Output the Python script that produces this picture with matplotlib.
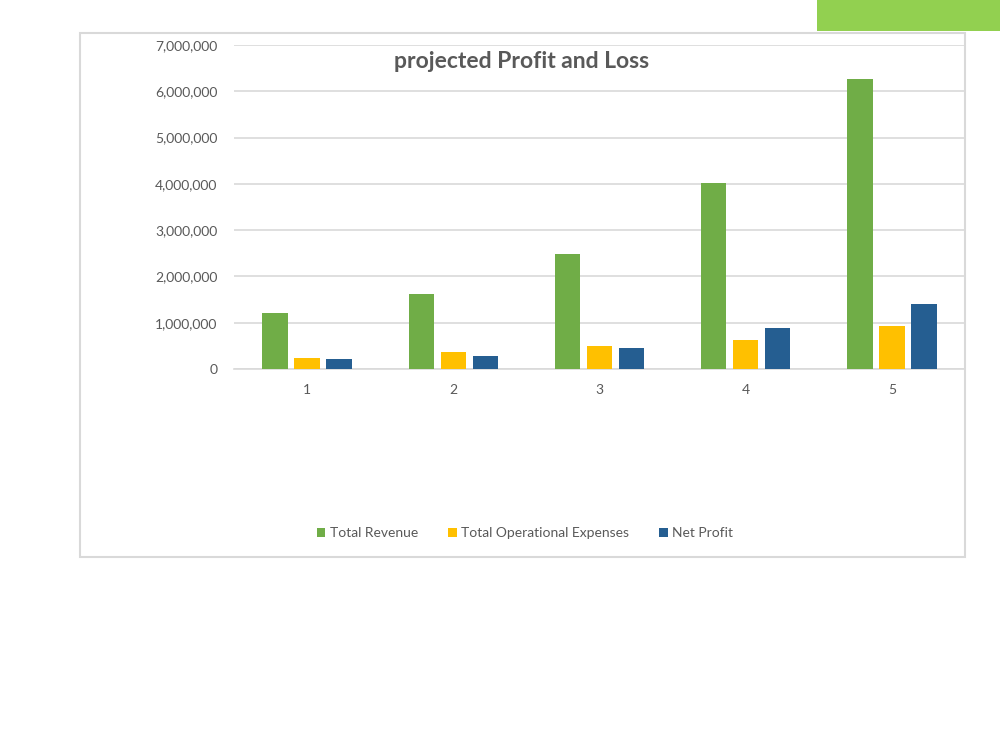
import numpy as np
import matplotlib.pyplot as plt
from matplotlib.patches import Rectangle
from matplotlib.ticker import FuncFormatter

plt.rcParams['font.family'] = ['Lato', 'DejaVu Sans']

# Data
years = ['1', '2', '3', '4', '5']
total_revenue = [1210000, 1620000, 2490000, 4020000, 6260000]
total_opex = [245000, 360000, 497000, 630000, 930000]
net_profit = [216000, 280000, 460000, 880000, 1400000]
series_names = ['Total Revenue', 'Total Operational Expenses', 'Net Profit']
colors = ['#70AD47', '#FFC000', '#255E91']

W, H = 1000, 751
fig = plt.figure(figsize=(W / 100, H / 100), dpi=100)

# Green accent block in the top-right corner
fig.patches.append(Rectangle((817 / W, 1 - 31 / H), (W - 817) / W, 31 / H,
                             transform=fig.transFigure, facecolor='#92D050',
                             edgecolor='none', zorder=-2))

# Light frame around the chart
fig.patches.append(Rectangle((80 / W, 1 - 557 / H), (965 - 80) / W, (557 - 33) / H,
                             transform=fig.transFigure, facecolor='none',
                             edgecolor='#D9D9D9', linewidth=1.5, zorder=-1))

# Plot area: x 234..965, y 45..369 (pixels)
ax = fig.add_axes([234 / W, 1 - 369 / H, (965 - 234) / W, (369 - 45) / H])
ax.set_facecolor('none')

x = np.arange(len(years))
step, width = 0.219, 0.174
for i, (vals, name, c) in enumerate(zip([total_revenue, total_opex, net_profit],
                                         series_names, colors)):
    ax.bar(x + (i - 1) * step, vals, width, color=c, label=name, zorder=3)

ax.set_xlim(-0.5, len(years) - 0.5)
ax.set_ylim(0, 7000000)
ax.set_yticks(np.arange(0, 7000001, 1000000))
ax.yaxis.set_major_formatter(FuncFormatter(lambda v, p: f'{int(v):,}'))
ax.set_xticks(x)
ax.set_xticklabels(years)
ax.grid(axis='y', color='#D9D9D9', linewidth=1.2, zorder=0)
for s in ['top', 'right', 'left']:
    ax.spines[s].set_visible(False)
ax.spines['bottom'].set_color('#D9D9D9')
ax.spines['bottom'].set_linewidth(1.2)
ax.tick_params(axis='both', length=0, labelsize=10, colors='#595959')
ax.tick_params(axis='y', pad=12)
ax.tick_params(axis='x', pad=11)

fig.text(522 / W, 1 - 62 / H, 'projected Profit and Loss', ha='center', va='center',
         fontsize=16.5, fontweight='bold', color='#595959')

fig.legend(loc='center', bbox_to_anchor=(525 / W, 1 - 533 / H), ncol=3, frameon=False,
           fontsize=10, labelcolor='#595959', handlelength=0.6, handleheight=0.6,
           handletextpad=0.3, columnspacing=2.2)

fig.savefig('out.png', dpi=100, facecolor='white')
